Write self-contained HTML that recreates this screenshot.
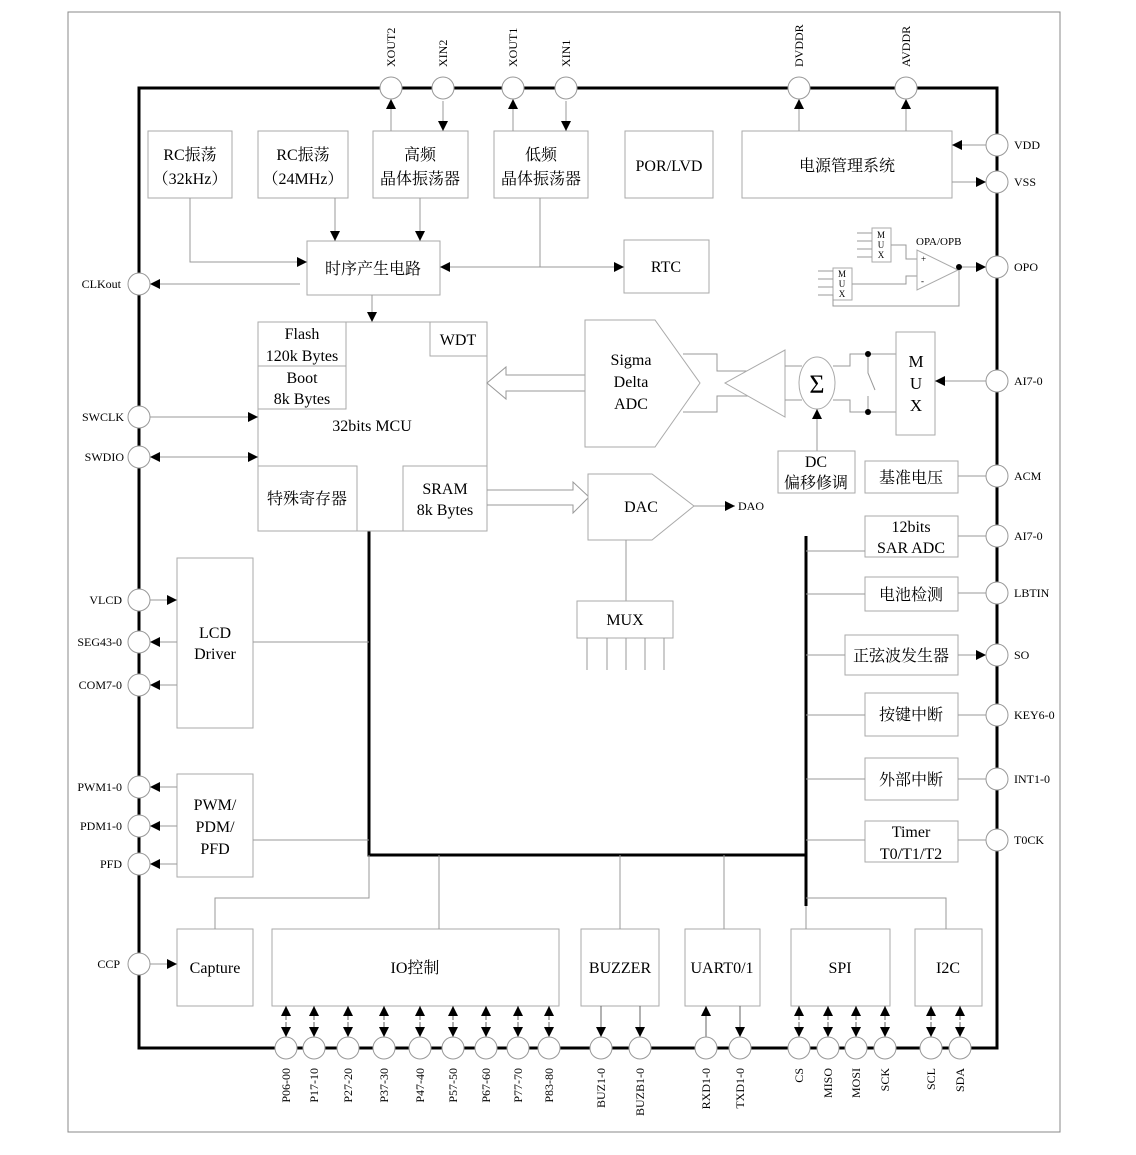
<!DOCTYPE html>
<html><head><meta charset="utf-8"><style>
html,body{margin:0;padding:0;background:#fff;}
svg{display:block;}
text{font-family:"Liberation Serif","Noto Serif CJK SC",serif;fill:#000;}
.b{fill:#fff;stroke:#aaa;stroke-width:1;}
.l{stroke:#999;stroke-width:1;fill:none;}
.t{font-size:16px;text-anchor:middle;}
.s{font-size:12px;}
.p{fill:#fff;stroke:#999;stroke-width:1;}
</style></head><body>
<svg width="1136" height="1155" viewBox="0 0 1136 1155" xmlns="http://www.w3.org/2000/svg">
<defs>
<marker id="a" viewBox="0 0 10 10" refX="10" refY="5" markerWidth="10" markerHeight="10" orient="auto-start-reverse" markerUnits="userSpaceOnUse"><path d="M0,0L10,5L0,10z" fill="#000"/></marker>
</defs>
<rect x="68" y="12" width="992" height="1120" fill="none" stroke="#888" stroke-width="1"/>
<rect x="139" y="88" width="858" height="960" fill="none" stroke="#000" stroke-width="3"/>

<path d="M369,531V855H806M806,536V906" stroke="#000" stroke-width="3" fill="none"/>

<rect class="b" x="148" y="131" width="84" height="67"/>
<text class="t" x="190" y="160">RC振荡</text><text class="t" x="190" y="184">（32kHz）</text>
<rect class="b" x="258" y="131" width="90" height="67"/>
<text class="t" x="303" y="160">RC振荡</text><text class="t" x="303" y="184">（24MHz）</text>
<rect class="b" x="373" y="131" width="95" height="67"/>
<text class="t" x="420" y="160">高频</text><text class="t" x="420" y="184">晶体振荡器</text>
<rect class="b" x="494" y="131" width="94" height="67"/>
<text class="t" x="541" y="160">低频</text><text class="t" x="541" y="184">晶体振荡器</text>
<rect class="b" x="625" y="131" width="88" height="67"/>
<text class="t" x="669" y="171">POR/LVD</text>
<rect class="b" x="742" y="131" width="210" height="67"/>
<text class="t" x="847" y="171">电源管理系统</text>
<rect class="b" x="307" y="241" width="133" height="54"/>
<text class="t" x="373" y="274">时序产生电路</text>
<rect class="b" x="624" y="240" width="85" height="53"/>
<text class="t" x="666" y="272">RTC</text>

<path class="l" d="M190,198V262H300M335,198V236M420,198V236M540,198V267M448,267H617M391,131V101M443,101V126M513,131V101M566,101V126M799,131V101M906,131V101M986,145H957M952,182H981M372,295V316M300,284H153"/>
<line x1="300" y1="262" x2="307" y2="262" stroke="#999" marker-end="url(#a)"/>
<line x1="335" y1="230" x2="335" y2="241" stroke="#999" marker-end="url(#a)"/>
<line x1="420" y1="230" x2="420" y2="241" stroke="#999" marker-end="url(#a)"/>
<line x1="448" y1="267" x2="440" y2="267" stroke="#999" marker-end="url(#a)"/>
<line x1="615" y1="267" x2="624" y2="267" stroke="#999" marker-end="url(#a)"/>
<line x1="391" y1="108" x2="391" y2="99" stroke="#999" marker-end="url(#a)"/>
<line x1="443" y1="122" x2="443" y2="131" stroke="#999" marker-end="url(#a)"/>
<line x1="513" y1="108" x2="513" y2="99" stroke="#999" marker-end="url(#a)"/>
<line x1="566" y1="122" x2="566" y2="131" stroke="#999" marker-end="url(#a)"/>
<line x1="799" y1="108" x2="799" y2="99" stroke="#999" marker-end="url(#a)"/>
<line x1="906" y1="108" x2="906" y2="99" stroke="#999" marker-end="url(#a)"/>
<line x1="962" y1="145" x2="952" y2="145" stroke="#999" marker-end="url(#a)"/>
<line x1="976" y1="182" x2="986" y2="182" stroke="#999" marker-end="url(#a)"/>
<line x1="372" y1="312" x2="372" y2="322" stroke="#999" marker-end="url(#a)"/>
<line x1="160" y1="284" x2="150" y2="284" stroke="#999" marker-end="url(#a)"/>

<rect class="b" x="258" y="322" width="229" height="209"/>
<rect class="b" x="258" y="322" width="88" height="44"/>
<text class="t" x="302" y="339">Flash</text><text class="t" x="302" y="361">120k Bytes</text>
<rect class="b" x="258" y="366" width="88" height="43"/>
<text class="t" x="302" y="383">Boot</text><text class="t" x="302" y="404">8k Bytes</text>
<rect class="b" x="430" y="322" width="57" height="34"/>
<text class="t" x="458" y="345">WDT</text>
<text class="t" x="372" y="431">32bits MCU</text>
<rect class="b" x="258" y="466" width="99" height="65"/>
<text class="t" x="307" y="504">特殊寄存器</text>
<rect class="b" x="403" y="466" width="84" height="65"/>
<text class="t" x="445" y="494">SRAM</text><text class="t" x="445" y="515">8k Bytes</text>

<path class="l" d="M585,375H506V367L487,383L506,399V391H585"/>
<path class="l" d="M487,490H573V482L589,497L573,513V505H487"/>

<path class="b" d="M585,320H655L700,383L655,447H585Z"/>
<text class="t" x="631" y="365">Sigma</text><text class="t" x="631" y="387">Delta</text><text class="t" x="631" y="409">ADC</text>
<path class="b" d="M588,474H652L694,506L652,540H588Z"/>
<text class="t" x="641" y="512">DAC</text>
<line x1="694" y1="506" x2="735" y2="506" stroke="#999" marker-end="url(#a)"/>
<text class="s" x="738" y="510">DAO</text>
<path class="l" d="M626,540V601"/>
<rect class="b" x="577" y="601" width="96" height="37"/>
<text class="t" x="625" y="625">MUX</text>
<path class="l" d="M587,638V670M607,638V670M626,638V670M645,638V670M664,638V670"/>

<path class="l" d="M683,354H717V371H752M683,412H717V396H752"/>
<path class="b" d="M785,350V417L725,383Z"/>
<path class="l" d="M785,366H802M785,400H802M833,366H850V354H896M833,400H850V412H896M868,354V373L875,390M868,396V412"/>
<ellipse cx="817" cy="383" rx="18" ry="26" class="b"/>
<text x="817" y="393" style="font-size:26px;text-anchor:middle">Σ</text>
<circle cx="868" cy="354" r="3" fill="#000"/><circle cx="868" cy="412" r="3" fill="#000"/>
<rect class="b" x="896" y="332" width="39" height="103"/>
<text class="t" x="916" y="367" style="font-size:17px">M</text><text class="t" x="916" y="389" style="font-size:17px">U</text><text class="t" x="916" y="411" style="font-size:17px">X</text>
<path class="l" d="M986,381H943M817,451V418"/>
<line x1="945" y1="381" x2="935" y2="381" stroke="#999" marker-end="url(#a)"/>
<line x1="817" y1="418" x2="817" y2="409" stroke="#999" marker-end="url(#a)"/>
<rect class="b" x="778" y="451" width="77" height="42"/>
<text class="t" x="816" y="467">DC</text><text class="t" x="816" y="488">偏移修调</text>

<rect class="b" x="872" y="228" width="19" height="34"/>
<text x="881" y="238" style="font-size:9px;text-anchor:middle">M</text><text x="881" y="248" style="font-size:9px;text-anchor:middle">U</text><text x="881" y="258" style="font-size:9px;text-anchor:middle">X</text>
<rect class="b" x="833" y="268" width="19" height="32"/>
<text x="842" y="277" style="font-size:9px;text-anchor:middle">M</text><text x="842" y="287" style="font-size:9px;text-anchor:middle">U</text><text x="842" y="297" style="font-size:9px;text-anchor:middle">X</text>
<path class="l" d="M857,233H872M857,241H872M857,249H872M857,257H872M818,271H833M818,279H833M818,287H833M818,295H833V306H959V267M891,245H906V259H917M852,284H906V276H917M958,267H980"/>
<path class="b" d="M917,250V290L958,270Z"/>
<text x="921" y="262" style="font-size:9px">+</text><text x="921" y="284" style="font-size:9px">-</text>
<circle cx="959" cy="267" r="3" fill="#000"/>
<line x1="975" y1="267" x2="986" y2="267" stroke="#999" marker-end="url(#a)"/>
<text class="s" x="916" y="245" style="font-size:11px">OPA/OPB</text>

<rect class="b" x="865" y="461" width="93" height="32"/><text class="t" x="911" y="483">基准电压</text>
<rect class="b" x="865" y="516" width="93" height="41"/><text class="t" x="911" y="532">12bits</text><text class="t" x="911" y="553">SAR ADC</text>
<rect class="b" x="865" y="577" width="93" height="34"/><text class="t" x="911" y="600">电池检测</text>
<rect class="b" x="845" y="635" width="113" height="40"/><text class="t" x="901" y="661">正弦波发生器</text>
<rect class="b" x="865" y="693" width="93" height="43"/><text class="t" x="911" y="720">按键中断</text>
<rect class="b" x="865" y="758" width="93" height="42"/><text class="t" x="911" y="785">外部中断</text>
<rect class="b" x="865" y="821" width="93" height="41"/><text class="t" x="911" y="837">Timer</text><text class="t" x="911" y="859">T0/T1/T2</text>
<path class="l" d="M958,476H986M958,536H986M958,593H986M958,655H980M958,715H986M958,779H986M958,840H986M806,551H865M806,594H865M806,655H845M806,715H865M806,779H865M806,840H865"/>
<line x1="976" y1="655" x2="986" y2="655" stroke="#999" marker-end="url(#a)"/>

<rect class="b" x="177" y="558" width="76" height="170"/><text class="t" x="215" y="638">LCD</text><text class="t" x="215" y="659">Driver</text>
<rect class="b" x="177" y="774" width="76" height="103"/><text class="t" x="215" y="810">PWM/</text><text class="t" x="215" y="832">PDM/</text><text class="t" x="215" y="854">PFD</text>
<rect class="b" x="177" y="929" width="76" height="77"/><text class="t" x="215" y="973">Capture</text>
<path class="l" d="M253,642H369M253,840H369M369,855V898H215V929M150,417H250M158,457H250M150,600H170M177,642H157M177,685H157M177,787H157M177,826H157M177,864H157M150,964H170"/>
<line x1="248" y1="417" x2="258" y2="417" stroke="#999" marker-end="url(#a)"/>
<line x1="248" y1="457" x2="258" y2="457" stroke="#999" marker-end="url(#a)"/>
<line x1="160" y1="457" x2="150" y2="457" stroke="#999" marker-end="url(#a)"/>
<line x1="167" y1="600" x2="177" y2="600" stroke="#999" marker-end="url(#a)"/>
<line x1="160" y1="642" x2="150" y2="642" stroke="#999" marker-end="url(#a)"/>
<line x1="160" y1="685" x2="150" y2="685" stroke="#999" marker-end="url(#a)"/>
<line x1="160" y1="787" x2="150" y2="787" stroke="#999" marker-end="url(#a)"/>
<line x1="160" y1="826" x2="150" y2="826" stroke="#999" marker-end="url(#a)"/>
<line x1="160" y1="864" x2="150" y2="864" stroke="#999" marker-end="url(#a)"/>
<line x1="167" y1="964" x2="177" y2="964" stroke="#999" marker-end="url(#a)"/>

<rect class="b" x="272" y="929" width="287" height="77"/><text class="t" x="415" y="973">IO控制</text>
<rect class="b" x="581" y="929" width="78" height="77"/><text class="t" x="620" y="973">BUZZER</text>
<rect class="b" x="685" y="929" width="75" height="77"/><text class="t" x="722" y="973">UART0/1</text>
<rect class="b" x="791" y="929" width="99" height="77"/><text class="t" x="840" y="973">SPI</text>
<rect class="b" x="915" y="929" width="67" height="77"/><text class="t" x="948" y="973">I2C</text>
<path class="l" d="M439,855V929M620,855V929M724,855V929M806,906V929M806,898H946V929"/>

<g stroke="#666">
<line x1="286" y1="1020" x2="286" y2="1006" marker-end="url(#a)"/><line x1="286" y1="1022" x2="286" y2="1037" marker-end="url(#a)"/>
<line x1="314" y1="1020" x2="314" y2="1006" marker-end="url(#a)"/><line x1="314" y1="1022" x2="314" y2="1037" marker-end="url(#a)"/>
<line x1="348" y1="1020" x2="348" y2="1006" marker-end="url(#a)"/><line x1="348" y1="1022" x2="348" y2="1037" marker-end="url(#a)"/>
<line x1="384" y1="1020" x2="384" y2="1006" marker-end="url(#a)"/><line x1="384" y1="1022" x2="384" y2="1037" marker-end="url(#a)"/>
<line x1="420" y1="1020" x2="420" y2="1006" marker-end="url(#a)"/><line x1="420" y1="1022" x2="420" y2="1037" marker-end="url(#a)"/>
<line x1="453" y1="1020" x2="453" y2="1006" marker-end="url(#a)"/><line x1="453" y1="1022" x2="453" y2="1037" marker-end="url(#a)"/>
<line x1="486" y1="1020" x2="486" y2="1006" marker-end="url(#a)"/><line x1="486" y1="1022" x2="486" y2="1037" marker-end="url(#a)"/>
<line x1="518" y1="1020" x2="518" y2="1006" marker-end="url(#a)"/><line x1="518" y1="1022" x2="518" y2="1037" marker-end="url(#a)"/>
<line x1="549" y1="1020" x2="549" y2="1006" marker-end="url(#a)"/><line x1="549" y1="1022" x2="549" y2="1037" marker-end="url(#a)"/>
<line x1="601" y1="1006" x2="601" y2="1037" marker-end="url(#a)"/>
<line x1="640" y1="1006" x2="640" y2="1037" marker-end="url(#a)"/>
<line x1="706" y1="1037" x2="706" y2="1006" marker-end="url(#a)"/>
<line x1="740" y1="1006" x2="740" y2="1037" marker-end="url(#a)"/>
<line x1="799" y1="1020" x2="799" y2="1006" marker-end="url(#a)"/><line x1="799" y1="1022" x2="799" y2="1037" marker-end="url(#a)"/>
<line x1="828" y1="1020" x2="828" y2="1006" marker-end="url(#a)"/><line x1="828" y1="1022" x2="828" y2="1037" marker-end="url(#a)"/>
<line x1="856" y1="1020" x2="856" y2="1006" marker-end="url(#a)"/><line x1="856" y1="1022" x2="856" y2="1037" marker-end="url(#a)"/>
<line x1="885" y1="1020" x2="885" y2="1006" marker-end="url(#a)"/><line x1="885" y1="1022" x2="885" y2="1037" marker-end="url(#a)"/>
<line x1="931" y1="1020" x2="931" y2="1006" marker-end="url(#a)"/><line x1="931" y1="1022" x2="931" y2="1037" marker-end="url(#a)"/>
<line x1="960" y1="1020" x2="960" y2="1006" marker-end="url(#a)"/><line x1="960" y1="1022" x2="960" y2="1037" marker-end="url(#a)"/>
</g>

<g class="p">
<circle cx="391" cy="88" r="11"/><circle cx="443" cy="88" r="11"/><circle cx="513" cy="88" r="11"/><circle cx="566" cy="88" r="11"/><circle cx="799" cy="88" r="11"/><circle cx="906" cy="88" r="11"/>
<circle cx="997" cy="145" r="11"/><circle cx="997" cy="182" r="11"/><circle cx="997" cy="267" r="11"/><circle cx="997" cy="381" r="11"/><circle cx="997" cy="476" r="11"/><circle cx="997" cy="536" r="11"/><circle cx="997" cy="593" r="11"/><circle cx="997" cy="655" r="11"/><circle cx="997" cy="715" r="11"/><circle cx="997" cy="779" r="11"/><circle cx="997" cy="840" r="11"/>
<circle cx="139" cy="284" r="11"/><circle cx="139" cy="417" r="11"/><circle cx="139" cy="457" r="11"/><circle cx="139" cy="600" r="11"/><circle cx="139" cy="642" r="11"/><circle cx="139" cy="685" r="11"/><circle cx="139" cy="787" r="11"/><circle cx="139" cy="826" r="11"/><circle cx="139" cy="864" r="11"/><circle cx="139" cy="964" r="11"/>
<circle cx="286" cy="1048" r="11"/><circle cx="314" cy="1048" r="11"/><circle cx="348" cy="1048" r="11"/><circle cx="384" cy="1048" r="11"/><circle cx="420" cy="1048" r="11"/><circle cx="453" cy="1048" r="11"/><circle cx="486" cy="1048" r="11"/><circle cx="518" cy="1048" r="11"/><circle cx="549" cy="1048" r="11"/><circle cx="601" cy="1048" r="11"/><circle cx="640" cy="1048" r="11"/><circle cx="706" cy="1048" r="11"/><circle cx="740" cy="1048" r="11"/><circle cx="799" cy="1048" r="11"/><circle cx="828" cy="1048" r="11"/><circle cx="856" cy="1048" r="11"/><circle cx="885" cy="1048" r="11"/><circle cx="931" cy="1048" r="11"/><circle cx="960" cy="1048" r="11"/>
</g>

<g class="s">
<text transform="translate(395,67) rotate(-90)">XOUT2</text>
<text transform="translate(447,67) rotate(-90)">XIN2</text>
<text transform="translate(517,67) rotate(-90)">XOUT1</text>
<text transform="translate(570,67) rotate(-90)">XIN1</text>
<text transform="translate(803,67) rotate(-90)">DVDDR</text>
<text transform="translate(910,67) rotate(-90)">AVDDR</text>
<text x="1014" y="149">VDD</text><text x="1014" y="186">VSS</text><text x="1014" y="271">OPO</text><text x="1014" y="385">AI7-0</text><text x="1014" y="480">ACM</text><text x="1014" y="540">AI7-0</text><text x="1014" y="597">LBTIN</text><text x="1014" y="659">SO</text><text x="1014" y="719">KEY6-0</text><text x="1014" y="783">INT1-0</text><text x="1014" y="844">T0CK</text>
<g text-anchor="end">
<text x="121" y="288">CLKout</text><text x="124" y="421">SWCLK</text><text x="124" y="461">SWDIO</text><text x="122" y="604">VLCD</text><text x="122" y="646">SEG43-0</text><text x="122" y="689">COM7-0</text><text x="122" y="791">PWM1-0</text><text x="122" y="830">PDM1-0</text><text x="122" y="868">PFD</text><text x="120" y="968">CCP</text>
<text transform="translate(290,1068) rotate(-90)">P06-00</text>
<text transform="translate(318,1068) rotate(-90)">P17-10</text>
<text transform="translate(352,1068) rotate(-90)">P27-20</text>
<text transform="translate(388,1068) rotate(-90)">P37-30</text>
<text transform="translate(424,1068) rotate(-90)">P47-40</text>
<text transform="translate(457,1068) rotate(-90)">P57-50</text>
<text transform="translate(490,1068) rotate(-90)">P67-60</text>
<text transform="translate(522,1068) rotate(-90)">P77-70</text>
<text transform="translate(553,1068) rotate(-90)">P83-80</text>
<text transform="translate(605,1068) rotate(-90)">BUZ1-0</text>
<text transform="translate(644,1068) rotate(-90)">BUZB1-0</text>
<text transform="translate(710,1068) rotate(-90)">RXD1-0</text>
<text transform="translate(744,1068) rotate(-90)">TXD1-0</text>
<text transform="translate(803,1068) rotate(-90)">CS</text>
<text transform="translate(832,1068) rotate(-90)">MISO</text>
<text transform="translate(860,1068) rotate(-90)">MOSI</text>
<text transform="translate(889,1068) rotate(-90)">SCK</text>
<text transform="translate(935,1068) rotate(-90)">SCL</text>
<text transform="translate(964,1068) rotate(-90)">SDA</text>
</g>
</g>
</svg>
</body></html>
